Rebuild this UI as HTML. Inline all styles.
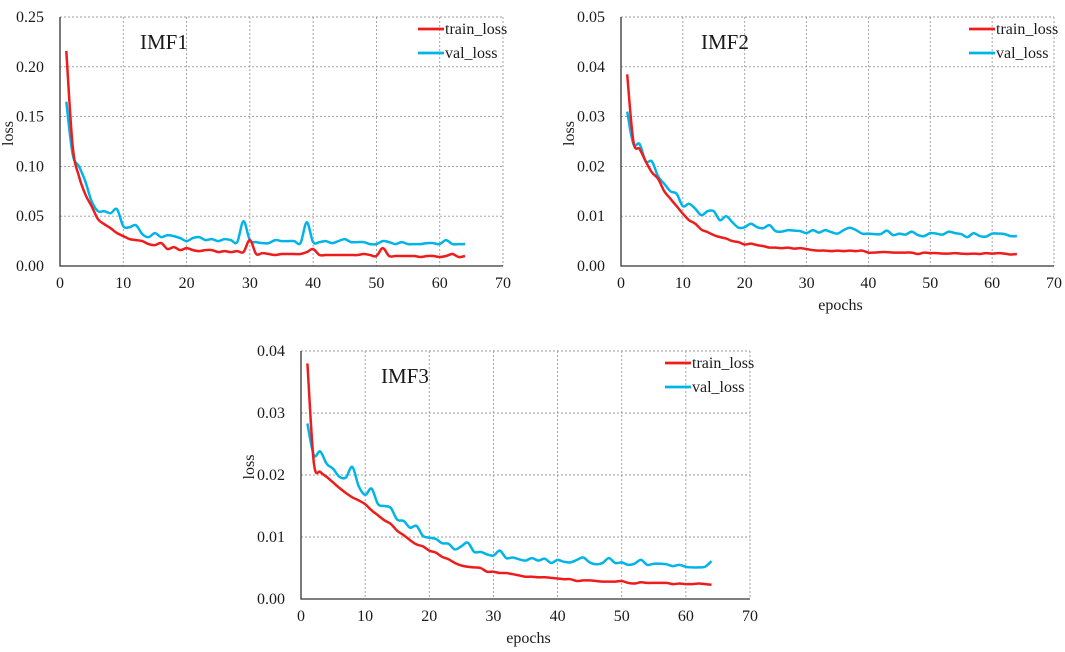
<!DOCTYPE html>
<html><head><meta charset="utf-8"><style>
body{margin:0;background:#fff;}
svg text{font-family:"Liberation Serif",serif;fill:#1a1a1a;}
</style></head><body>
<svg id="chart" width="1065" height="647"></svg>
<script>
const epochs = Array.from({length:64},(_,i)=>i+1);
const xTicks = [0,10,20,30,40,50,60,70];
const imf1Ticks = ["0.00","0.05","0.10","0.15","0.20","0.25"];
const imf2Ticks = ["0.00","0.01","0.02","0.03","0.04","0.05"];
const imf3Ticks = ["0.00","0.01","0.02","0.03","0.04"];
const imf1Train = [0.216,0.12,0.09,0.072,0.06,0.047,0.042,0.038,0.033,0.030,0.027,0.026,0.025,0.022,0.021,0.023,0.017,0.019,0.016,0.018,0.016,0.015,0.016,0.016,0.014,0.015,0.014,0.015,0.014,0.026,0.012,0.013,0.012,0.011,0.012,0.012,0.012,0.012,0.014,0.017,0.011,0.011,0.011,0.011,0.011,0.011,0.011,0.012,0.011,0.010,0.018,0.010,0.010,0.010,0.010,0.010,0.009,0.010,0.010,0.009,0.010,0.012,0.009,0.010];
const imf1Val = [0.165,0.112,0.1,0.085,0.065,0.055,0.055,0.053,0.057,0.04,0.039,0.041,0.032,0.029,0.033,0.029,0.031,0.03,0.028,0.025,0.028,0.029,0.026,0.027,0.025,0.027,0.026,0.024,0.045,0.026,0.024,0.023,0.023,0.026,0.025,0.025,0.025,0.023,0.044,0.024,0.024,0.025,0.023,0.025,0.027,0.024,0.024,0.024,0.022,0.022,0.025,0.024,0.022,0.024,0.022,0.022,0.022,0.023,0.023,0.022,0.026,0.022,0.022,0.022];
const imf2Train = [0.0385,0.025,0.0235,0.021,0.0188,0.0175,0.015,0.0135,0.012,0.0105,0.0092,0.0085,0.0073,0.0068,0.0062,0.0058,0.0055,0.005,0.0048,0.0043,0.0045,0.0042,0.004,0.0037,0.0037,0.0036,0.0037,0.0035,0.0036,0.0034,0.0032,0.0031,0.0031,0.003,0.0031,0.003,0.0031,0.003,0.0031,0.0027,0.0027,0.0028,0.0028,0.0027,0.0027,0.0027,0.0027,0.0024,0.0027,0.0026,0.0026,0.0025,0.0025,0.0026,0.0025,0.0024,0.0025,0.0024,0.0026,0.0025,0.0026,0.0025,0.0023,0.0024];
const imf2Val = [0.031,0.0245,0.0245,0.021,0.021,0.018,0.0165,0.015,0.0145,0.012,0.0125,0.0115,0.0102,0.011,0.011,0.0092,0.01,0.0088,0.0077,0.0078,0.0085,0.0078,0.0076,0.0082,0.007,0.0069,0.0072,0.0071,0.007,0.0066,0.0072,0.0067,0.0072,0.0068,0.0065,0.0072,0.0077,0.0072,0.0065,0.0065,0.0064,0.0064,0.0071,0.0062,0.0065,0.0063,0.0069,0.0062,0.006,0.0066,0.0065,0.0063,0.0069,0.0066,0.0064,0.0058,0.0066,0.006,0.0059,0.0065,0.0065,0.0064,0.006,0.006];
const imf3Train = [0.038,0.022,0.0205,0.0197,0.0188,0.0179,0.0171,0.0164,0.0159,0.0153,0.0143,0.0135,0.0127,0.0121,0.011,0.0103,0.0095,0.0088,0.0085,0.0078,0.0075,0.0068,0.0064,0.0058,0.0054,0.0052,0.0051,0.005,0.0044,0.0044,0.0042,0.0042,0.004,0.0038,0.0036,0.0036,0.0035,0.0035,0.0034,0.0033,0.0032,0.0032,0.0029,0.003,0.003,0.0029,0.0028,0.0028,0.0028,0.0029,0.0026,0.0025,0.0027,0.0026,0.0026,0.0026,0.0026,0.0024,0.0025,0.0024,0.0024,0.0025,0.0024,0.0023];
const imf3Val = [0.0283,0.0232,0.0238,0.0218,0.021,0.0197,0.0196,0.0213,0.0182,0.0168,0.0178,0.0153,0.015,0.0147,0.0128,0.0126,0.0115,0.0118,0.0102,0.0099,0.0097,0.009,0.0089,0.008,0.0085,0.0091,0.0076,0.0076,0.0072,0.007,0.0078,0.0066,0.0067,0.0064,0.0062,0.0066,0.0062,0.0065,0.0058,0.0063,0.006,0.0059,0.0063,0.0067,0.0059,0.0056,0.0058,0.0066,0.0058,0.0059,0.0055,0.0057,0.0063,0.0055,0.0057,0.0057,0.0056,0.0053,0.0055,0.0052,0.0051,0.0051,0.0052,0.0061];

const NS="http://www.w3.org/2000/svg";
const svg=document.getElementById('chart');
function mk(tag,attrs,parent,txt){const e=document.createElementNS(NS,tag);for(const k in attrs)e.setAttribute(k,attrs[k]);if(txt!==undefined)e.textContent=txt;(parent||svg).appendChild(e);return e;}
function smooth(p){let d=`M${p[0][0].toFixed(1)},${p[0][1].toFixed(1)}`;
  for(let i=0;i<p.length-1;i++){const p0=p[Math.max(0,i-1)],p1=p[i],p2=p[i+1],p3=p[Math.min(p.length-1,i+2)];
    const c1=[p1[0]+(p2[0]-p0[0])/6,p1[1]+(p2[1]-p0[1])/6],c2=[p2[0]-(p3[0]-p1[0])/6,p2[1]-(p3[1]-p1[1])/6];
    d+=`C${c1[0].toFixed(1)},${c1[1].toFixed(1)} ${c2[0].toFixed(1)},${c2[1].toFixed(1)} ${p2[0].toFixed(1)},${p2[1].toFixed(1)}`;}
  return d;}

function panel(name,L,R,T,B,yTicks,yMax,train,val,title,showEpochs){
  const g=mk('g',{});
  
  
  const xs=v=>L+(v-0)/70*(R-L);
  const ys=v=>B-v/yMax*(B-T);
  const n=yTicks.length-1;
  xTicks.forEach(t=>{ if(t>0){const l=mk('line',{x1:xs(t),x2:xs(t),y1:T,y2:B,stroke:'#999','stroke-width':0.9,'stroke-dasharray':'2,2'},g);
    
    }
    const tx=mk('text',{x:xs(t),y:B+22,'font-size':16,'text-anchor':'middle'},g,String(t));
    
    
  });
  yTicks.forEach((lab,i)=>{const v=yMax*i/n;
    if(i>0){const l=mk('line',{x1:L,x2:R,y1:ys(v),y2:ys(v),stroke:'#999','stroke-width':0.9,'stroke-dasharray':'2,2'},g);
    
    }
    const tx=mk('text',{x:L-16,y:ys(v)+5,'font-size':16,'text-anchor':'end'},g,lab);
    
    
  });
  const ax=mk('path',{d:`M${L},${T}V${B}H${R}`,stroke:'#333','stroke-width':1.3,fill:'none'},g);
  
  
  const yl=mk('text',{x:0,y:0,'font-size':16,'text-anchor':'middle',transform:`translate(${L-47},${(T+B)/2-8}) rotate(-90)`},g,'loss');
  
  
  if(showEpochs){const el=mk('text',{x:(L+R)/2+3,y:B+44,'font-size':16,'text-anchor':'middle'},g,'epochs');
    
    }
  const ti=mk('text',{x:L+80,y:T+32,'font-size':21},g,title);
  
  
  const pts=a=>a.map((v,i)=>[xs(epochs[i]),ys(v)]);
  const vl=mk('path',{d:smooth(pts(val)),fill:'none',stroke:'#00b4e8','stroke-width':2.5,'stroke-linejoin':'round'},g);
  
  
  const tl=mk('path',{d:smooth(pts(train)),fill:'none',stroke:'#ee1c1c','stroke-width':2.5,'stroke-linejoin':'round'},g);
  
  
  const lx=R-85;
  [['train_loss','#ee1c1c',T+12],['val_loss','#00b4e8',T+36]].forEach(([lab,c,y])=>{
    const lg=mk('g',{},g);
    
    
    mk('line',{x1:lx,x2:lx+26,y1:y,y2:y,stroke:c,'stroke-width':2.8},lg);
    mk('text',{x:lx+27,y:y+5,'font-size':16},lg,lab);
  });
}
panel('imf1',60,503,17,266,imf1Ticks,0.25,imf1Train,imf1Val,'IMF1',false);
panel('imf2',621,1054,17,266,imf2Ticks,0.05,imf2Train,imf2Val,'IMF2',true);
panel('imf3',301,750,351,599,imf3Ticks,0.04,imf3Train,imf3Val,'IMF3',true);
</script>
</body></html>
